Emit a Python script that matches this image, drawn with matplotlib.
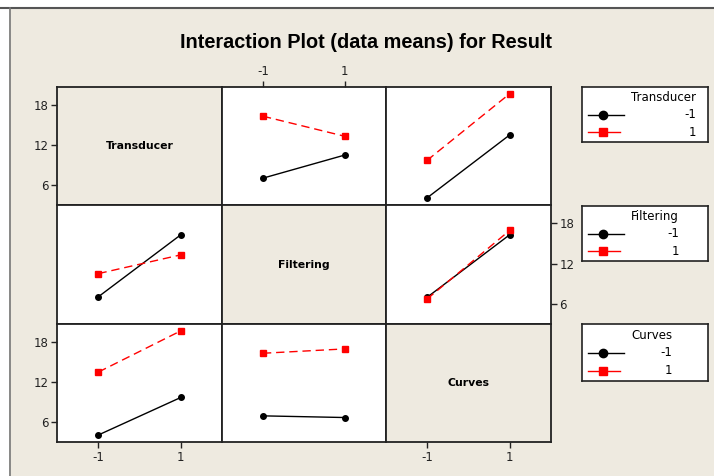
import matplotlib
matplotlib.use("Agg")
import matplotlib.pyplot as plt
import numpy as np

plt.rcParams['axes.unicode_minus'] = False

factors = ['Transducer', 'Filtering', 'Curves']
levels = [-1, 1]

# cell means, rows = first factor level (-1, 1), cols = second factor level (-1, 1)
trans_filt = [[7.05, 10.5], [16.3, 13.3]]
trans_curv = [[4.1, 13.5], [9.7, 19.65]]
filt_curv = [[6.95, 16.3], [6.7, 16.95]]

ytick_vals = [6, 12, 18]

bg = '#EEEAE0'
W, H = 714, 476

fig = plt.figure(figsize=(W / 100, H / 100), dpi=100, facecolor=bg)

# white strips and frame line like the minitab window
fig.patches.append(plt.Rectangle((0, 1 - 7 / H), 1, 7 / H, transform=fig.transFigure,
                                 facecolor='white', edgecolor='none', zorder=-5))
fig.patches.append(plt.Rectangle((0, 0), 9 / W, 1, transform=fig.transFigure,
                                 facecolor='white', edgecolor='none', zorder=-5))
fig.add_artist(plt.Line2D([0, 1], [1 - 8 / H, 1 - 8 / H], transform=fig.transFigure, color='#555555', lw=1.5))
fig.add_artist(plt.Line2D([10 / W, 10 / W], [0, 1 - 8 / H], transform=fig.transFigure, color='#777777', lw=1.2))

fig.text(366 / W, 1 - 43 / H, 'Interaction Plot (data means) for Result', ha='center', va='center',
         fontsize=14.3, fontweight='bold', family='Liberation Sans')

col_x = [57.3, 222.0, 385.7, 551.0]
row_y = [86.7, 205.3, 323.8, 442.3]

tables = {(0, 1): trans_filt, (0, 2): trans_curv, (1, 2): filt_curv}


def get_means(r, c):
    if (r, c) in tables:
        return np.array(tables[(r, c)])
    return np.array(tables[(c, r)]).T


for r in range(3):
    for c in range(3):
        x0, x1 = col_x[c], col_x[c + 1]
        y0, y1 = row_y[r], row_y[r + 1]
        ax = fig.add_axes([x0 / W, 1 - y1 / H, (x1 - x0) / W, (y1 - y0) / H])
        ax.set_xlim(-2, 2)
        ax.set_ylim(3.0, 20.7)
        for s in ax.spines.values():
            s.set_linewidth(1.3)
            s.set_color('#222222')
        ax.set_xticks([])
        ax.set_yticks([])
        ax.tick_params(length=4, width=1, labelsize=8.5, pad=2, colors='#222222')
        if r == c:
            ax.set_facecolor(bg)
            ax.text(0.5, 0.5, factors[r], transform=ax.transAxes, ha='center', va='center',
                    fontsize=7.8, fontweight='bold')
        else:
            ax.set_facecolor('white')
            m = get_means(r, c)
            ax.plot(levels, m[0], color='black', lw=1.0, marker='o', ms=4)
            ax.plot(levels, m[1], color='red', lw=1.0, ls=(0, (6, 3.5)), marker='s', ms=4.2)
        # ticks on the outside, alternating like minitab
        if c == 0 and r in (0, 2):
            ax.set_yticks(ytick_vals)
            ax.tick_params(axis='y', left=True, labelleft=True)
        if c == 2 and r == 1:
            ax.set_yticks(ytick_vals)
            ax.tick_params(axis='y', left=False, labelleft=False, right=True, labelright=True)
        if r == 0 and c == 1:
            ax.set_xticks(levels)
            ax.tick_params(axis='x', bottom=False, labelbottom=False, top=True, labeltop=True)
        if r == 2 and c in (0, 2):
            ax.set_xticks(levels)
            ax.tick_params(axis='x', bottom=True, labelbottom=True)

# legends
leg_y = [(86.7, 142.0), (205.7, 261.0), (324.0, 380.7)]
renderer = fig.canvas.get_renderer()
for name, (ly0, ly1) in zip(factors, leg_y):
    lax = fig.add_axes([582.3 / W, 1 - ly1 / H, 125.4 / W, (ly1 - ly0) / H])
    lax.set_xlim(0, 1)
    lax.set_ylim(0, 1)
    lax.set_xticks([])
    lax.set_yticks([])
    lax.set_facecolor('white')
    for s in lax.spines.values():
        s.set_linewidth(1.2)
        s.set_color('#222222')
    t = lax.text(0.39, 0.80, name, ha='left', va='center', fontsize=8.5)
    bb = t.get_window_extent(renderer).transformed(lax.transAxes.inverted())
    xr = bb.x1
    lax.plot([0.045, 0.33], [0.49, 0.49], color='black', lw=1.0)
    lax.plot([0.165], [0.49], color='black', marker='o', ms=6)
    lax.plot([0.045, 0.30], [0.175, 0.175], color='red', lw=1.0)
    lax.plot([0.165], [0.175], color='red', marker='s', ms=5.5)
    lax.text(xr, 0.49, '-1', ha='right', va='center', fontsize=8.5)
    lax.text(xr, 0.175, '1', ha='right', va='center', fontsize=8.5)

fig.savefig('out.png', dpi=100, facecolor=bg)
